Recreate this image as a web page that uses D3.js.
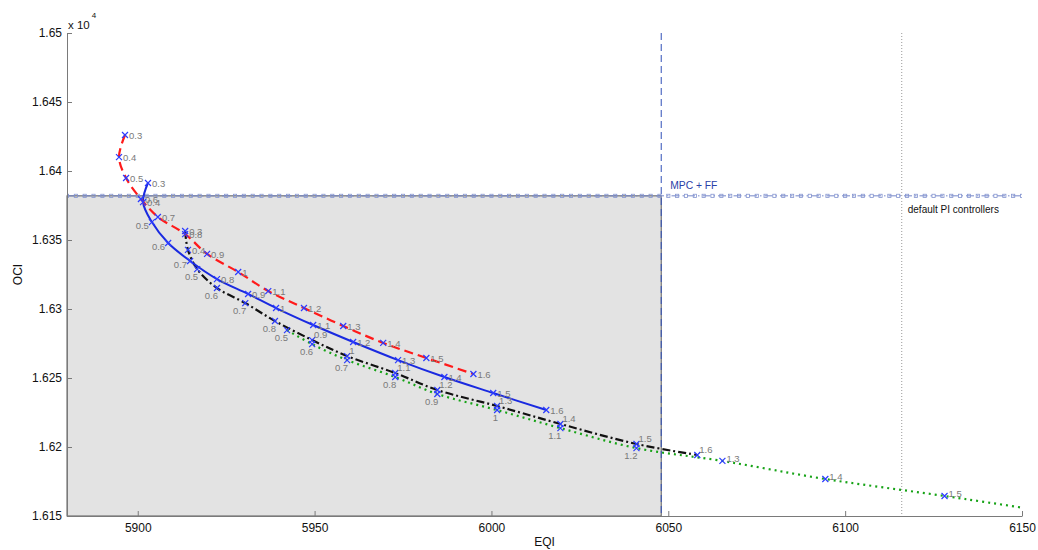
<!DOCTYPE html>
<html>
<head>
<meta charset="utf-8">
<script src="https://cdn.jsdelivr.net/npm/d3@7"></script>
<style>
  html, body { margin: 0; padding: 0; background: #fff; }
  svg { display: block; font-family: "Liberation Sans", Arial, sans-serif; }
</style>
</head>
<body>
<svg id="chart" width="1038" height="550"></svg>
<script>
// Tuning parameter attached to each point of the sweeps
const gains = ["0.3","0.4","0.5","0.6","0.7","0.8","0.9","1","1.1","1.2","1.3","1.4","1.5","1.6"];

// Sweep 1 (red dashed)
const redEQI = [5896.4,5894.7,5896.7,5900.9,5905.7,5913.4,5919.6,5928.4,5936.9,5947.0,5958.1,5969.4,5981.6,5994.9];
const redOCI = [16426.1,16410.1,16394.9,16379.7,16366.7,16354.3,16339.9,16326.8,16313.0,16300.7,16287.7,16275.4,16264.5,16252.9];

// Sweep 2 (blue solid)
const blueEQI = [5902.9,5901.5,5904.0,5908.6,5914.8,5922.4,5931.2,5939.1,5949.6,5960.9,5973.6,5986.7,6000.5,6015.5];
const blueOCI = [16391.3,16377.5,16363.0,16347.8,16334.8,16321.7,16310.9,16300.7,16288.4,16276.1,16263.0,16250.7,16239.1,16226.8];

// Sweep 3 (black dash-dot)
const blackEQI = [5913.4,5914.2,5916.8,5922.4,5930.4,5938.8,5949.3,5959.2,5972.8,5984.7,6001.6,6019.5,6041.0,6058.2];
const blackOCI = [16356.5,16342.8,16328.9,16315.2,16304.3,16291.3,16277.5,16265.9,16253.6,16241.3,16229.7,16216.7,16202.2,16194.2];

// Sweep 4 (green dotted), gains 0.5 .. 1.6
const greenEQI = [5942.2,5949.3,5959.2,5972.8,5984.7,6001.6,6019.5,6041.0,6065.3,6094.4,6128.1,6169.4];
const greenOCI = [16284.7,16274.5,16263.0,16250.7,16238.4,16226.8,16213.7,16199.2,16189.9,16176.8,16164.5,16148.5];

// Reference performance of the two controller set-ups
const mpcEQI = 6048;     // MPC + FF
const piEQI = 6116;      // default PI controllers
const ociLimit = 16382;  // OCI level of the reference

const xDomain = [5880, 6150];
const yDomain = [16150, 16500];
const xTickValues = [5900, 5950, 6000, 6050, 6100, 6150];
const yTickValues = [16150, 16200, 16250, 16300, 16350, 16400, 16450, 16500];

const svg = d3.select("#chart");
const plotLeft = 67, plotRight = 1022, plotTop = 33, plotBottom = 516;

const x = d3.scaleLinear().domain(xDomain).range([plotLeft, plotRight]);
const y = d3.scaleLinear().domain(yDomain).range([plotBottom, plotTop]);

svg.append("defs").append("clipPath").attr("id", "plotClip")
  .append("rect").attr("x", plotLeft).attr("y", plotTop - 2)
  .attr("width", plotRight - plotLeft).attr("height", plotBottom - plotTop + 2);

// Shaded region: better than MPC + FF on both indices
svg.append("rect")
  .attr("x", x(xDomain[0])).attr("y", y(ociLimit))
  .attr("width", x(mpcEQI) - x(xDomain[0]))
  .attr("height", y(yDomain[0]) - y(ociLimit))
  .attr("fill", "#e3e3e3").attr("stroke", "#5a5a5a").attr("stroke-width", 1);

const plot = svg.append("g").attr("clip-path", "url(#plotClip)");

// Vertical reference lines
plot.append("line")
  .attr("x1", x(mpcEQI)).attr("x2", x(mpcEQI)).attr("y1", plotTop).attr("y2", plotBottom)
  .attr("stroke", "#3050b8").attr("stroke-width", 1).attr("stroke-dasharray", "7,4");
plot.append("line")
  .attr("x1", x(piEQI)).attr("x2", x(piEQI)).attr("y1", plotTop).attr("y2", plotBottom)
  .attr("stroke", "#9a9a9a").attr("stroke-width", 1).attr("stroke-dasharray", "1,2");

// Horizontal OCI reference with square markers
plot.append("line")
  .attr("x1", plotLeft).attr("x2", plotRight).attr("y1", y(ociLimit)).attr("y2", y(ociLimit))
  .attr("stroke", "#7586c8").attr("stroke-width", 1).attr("stroke-dasharray", "8,3,1.5,3");
const refSamples = d3.range(xDomain[0], xDomain[1] + 0.1, 2.5);
plot.selectAll("rect.refsq").data(refSamples).join("rect")
  .attr("class", "refsq")
  .attr("x", d => x(d) - 1.6).attr("y", y(ociLimit) - 1.6)
  .attr("width", 3.2).attr("height", 3.2)
  .attr("fill", "none").attr("stroke", "#8494d0").attr("stroke-width", 0.8);

// Sweeps
const sweeps = [
  { eqi: redEQI,   oci: redOCI,   g: gains,           color: "#ff1a1a", dash: "9,5",        width: 2.2,
    side: () => "right" },
  { eqi: blueEQI,  oci: blueOCI,  g: gains,           color: "#1a2ae0", dash: null,         width: 2,
    side: (i) => (i >= 2 && i <= 4) ? "left" : "right" },
  { eqi: blackEQI, oci: blackOCI, g: gains,           color: "#111111", dash: "8,3,2,3",    width: 2.2,
    side: (i) => i < 2 ? "right" : (i <= 5 ? "below" : "above") },
  { eqi: greenEQI, oci: greenOCI, g: gains.slice(2),  color: "#17a317", dash: "2,4",        width: 2.2,
    side: (i) => i <= 7 ? "below" : "upright" }
];

const line = d3.line().x(d => x(d[0])).y(d => y(d[1])).curve(d3.curveCatmullRom.alpha(0.5));

// draw lines bottom-up so the red sweep sits on top
[3, 2, 1, 0].forEach(k => {
  const s = sweeps[k];
  const pts = s.eqi.map((e, i) => [e, s.oci[i]]);
  const p = plot.append("path").datum(pts)
    .attr("d", line).attr("fill", "none")
    .attr("stroke", s.color).attr("stroke-width", s.width)
    .attr("stroke-linecap", "butt").attr("stroke-linejoin", "round");
  if (s.dash) p.attr("stroke-dasharray", s.dash);
});

// markers and gain labels (only for points inside the axes)
sweeps.forEach(s => {
  const pts = s.eqi.map((e, i) => ({ e, o: s.oci[i], g: s.g[i], side: s.side(i) }))
    .filter(d => d.e >= xDomain[0] && d.e <= xDomain[1] && d.o >= yDomain[0] && d.o <= yDomain[1]);
  const grp = plot.append("g");
  pts.forEach(d => {
    const cx = x(d.e), cy = y(d.o);
    grp.append("path")
      .attr("d", `M${cx-3},${cy-3}L${cx+3},${cy+3}M${cx-3},${cy+3}L${cx+3},${cy-3}`)
      .attr("stroke", "#2b3bff").attr("stroke-width", 1.2).attr("fill", "none");
    let tx = cx + 4, ty = cy + 4, anchor = "start";
    if (d.side === "left")    { tx = cx - 3; ty = cy + 7;  anchor = "end"; }
    if (d.side === "below")   { tx = cx + 1; ty = cy + 11; anchor = "end"; }
    if (d.side === "above")   { tx = cx + 2; ty = cy - 2;  anchor = "start"; }
    if (d.side === "upright") { tx = cx + 4; ty = cy + 1;  anchor = "start"; }
    grp.append("text")
      .attr("x", tx).attr("y", ty).attr("text-anchor", anchor)
      .attr("font-size", 9.5).attr("fill", "#7a7a7a")
      .text(d.g);
  });
});

// Annotations
svg.append("text").attr("x", x(mpcEQI) + 9).attr("y", y(ociLimit) - 7)
  .attr("font-size", 10.3).attr("fill", "#2a40a8").text("MPC + FF");
svg.append("text").attr("x", x(piEQI) + 6).attr("y", y(ociLimit) + 17)
  .attr("font-size", 10).attr("fill", "#111").text("default PI controllers");

// Axes
const xAxis = d3.axisBottom(x).tickValues(xTickValues).tickSizeInner(-5).tickSizeOuter(0).tickPadding(7)
  .tickFormat(d3.format("d"));
const yAxis = d3.axisLeft(y).tickValues(yTickValues).tickSizeInner(-5).tickSizeOuter(0).tickPadding(5)
  .tickFormat(d => String(+(d / 1e4).toFixed(4)));

const gx = svg.append("g").attr("transform", `translate(0,${plotBottom})`).call(xAxis);
const gy = svg.append("g").attr("transform", `translate(${plotLeft},0)`).call(yAxis);
[gx, gy].forEach(g => {
  g.select(".domain").attr("stroke", "#7a7a7a");
  g.selectAll(".tick line").attr("stroke", "#7a7a7a");
  g.selectAll(".tick text").attr("font-size", 12).attr("fill", "#111")
    .attr("font-family", "'Liberation Sans', Arial, sans-serif");
});

// Exponent marker for the y axis
const expo = svg.append("text").attr("x", plotLeft + 1).attr("y", 29)
  .attr("font-size", 11.5).attr("fill", "#111");
expo.append("tspan").text("x 10");
expo.append("tspan").attr("dy", -11).attr("dx", 2).attr("font-size", 8).text("4");

// Axis titles
svg.append("text").attr("x", (plotLeft + plotRight) / 2).attr("y", 546)
  .attr("text-anchor", "middle").attr("font-size", 12).attr("fill", "#111").text("EQI");
svg.append("text").attr("transform", `translate(22,${(plotTop + plotBottom) / 2}) rotate(-90)`)
  .attr("text-anchor", "middle").attr("font-size", 12).attr("fill", "#111").text("OCI");
</script>
</body>
</html>
